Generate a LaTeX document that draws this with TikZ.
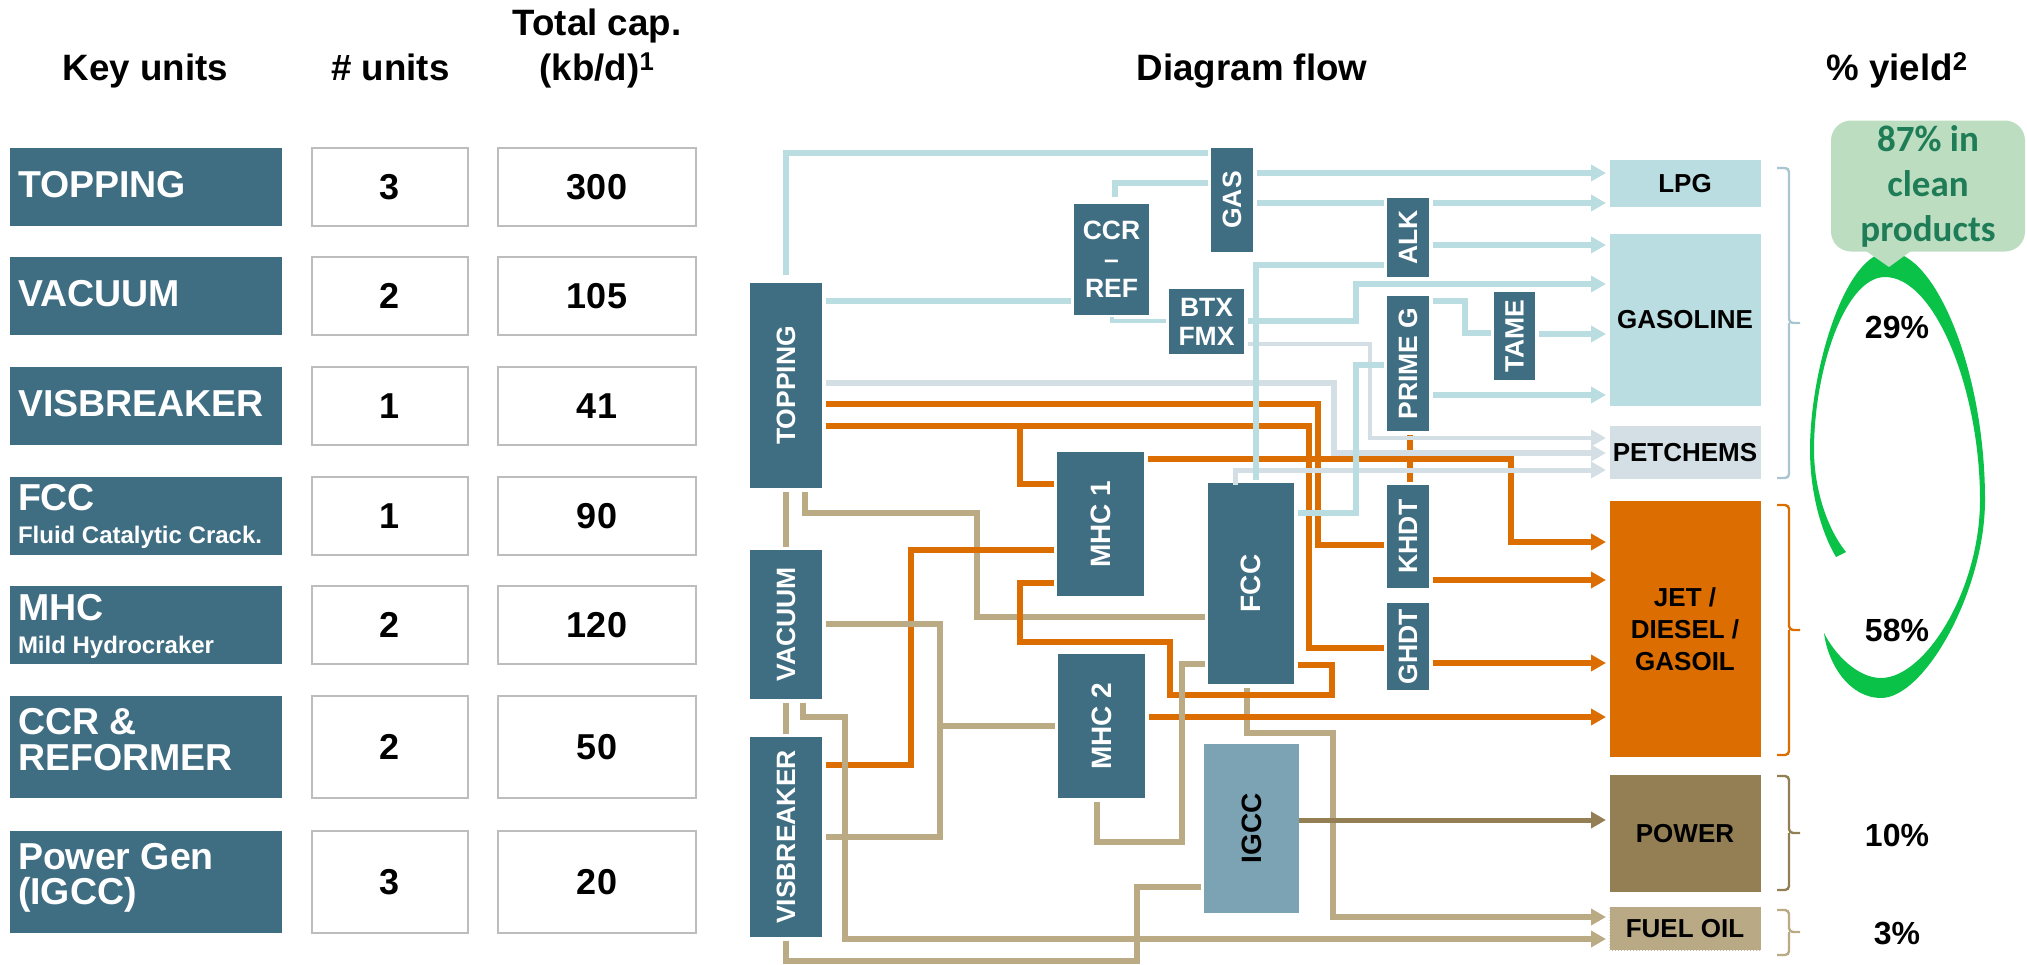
\documentclass[tikz,border=0pt]{standalone}
\usepackage{fontspec}
\setmainfont{Liberation Sans}
\newfontfamily\calfont{Carlito}
\usetikzlibrary{arrows.meta,positioning,patterns}
\definecolor{unitblue}{HTML}{3F6E83}
\definecolor{igccblue}{HTML}{7BA3B3}
\definecolor{ltblue}{HTML}{B9DDE0}
\definecolor{petgrey}{HTML}{D3DFE5}
\definecolor{oilorange}{HTML}{DC6D00}
\definecolor{oiltan}{HTML}{BAAB85}
\definecolor{powerbrown}{HTML}{937F53}
\definecolor{swoosh}{HTML}{0AC247}
\definecolor{calloutgreen}{HTML}{BDDDC1}
\definecolor{calloutink}{HTML}{1E7D57}
\definecolor{cellgrey}{HTML}{BDBDBD}
\definecolor{braceblue}{HTML}{A8C5D1}

\begin{document}
\begin{tikzpicture}[
  x=1pt, y=-1pt,
  font=\bfseries\fontsize{36}{40}\selectfont,
  head/.style={anchor=base, align=flush center, inner sep=0pt, outer sep=0pt, font=\bfseries\fontsize{36.7}{40}\selectfont},
  keybox/.style={fill=unitblue, text=white, align=flush left, text width=256pt, inner xsep=8pt, inner ysep=0pt, outer sep=0pt, minimum height=78pt, text height=26pt, text depth=6pt, font=\bfseries\fontsize{37.5}{40}\selectfont},
  numbox/.style={draw=cellgrey, line width=1.2pt, fill=white, inner sep=0pt, outer sep=0pt, minimum width=156pt, minimum height=78pt},
  capbox/.style={numbox, minimum width=198pt},
  unit/.style={fill=unitblue, text=white, anchor=north west, align=flush center, inner sep=0pt, outer sep=0pt, font=\bfseries\fontsize{26.5}{29}\selectfont},
  bigunit/.style={unit, font=\bfseries\fontsize{28}{30}\selectfont},
  prod/.style={text=black, align=flush center, inner sep=0pt, outer sep=0pt, minimum width=151pt, font=\bfseries\fontsize{26}{32}\selectfont},
  pct/.style={inner sep=0pt, outer sep=0pt, font=\bfseries\fontsize{32}{36}\selectfont},
  flow/.style={line width=6pt, shorten <=3.5pt, shorten >=3.5pt},
  lb/.style={flow, draw=ltblue},
  gy/.style={flow, draw=petgrey},
  og/.style={flow, draw=oilorange},
  tn/.style={flow, draw=oiltan},
  pw/.style={flow, draw=powerbrown, line width=5pt},
  thin/.style={line width=4pt},
  tip/.style={-{Triangle[length=15pt,width=16pt]}},
  brk/.style={line width=2.4pt, rounded corners=4pt}
]
\useasboundingbox (0,0) rectangle (2027,964);

\node[head] (hkey) at (145.5,80) {Key units};
\node[head] (hnum) at (390.5,80) {\# units};
\node[head] (hcap) at (597,80) {(kb/d)\textsuperscript{1}};
\node[head] (hcapb) at (597,35) {Total cap.};
\node[head] (hflow) at (1252,80) {Diagram flow};
\node[head] (hyield) at (1897,80) {\% yield\textsuperscript{2}};

\node[keybox, anchor=north west] (keytop) at (10,148) {TOPPING};
\node[numbox, right=30pt of keytop] (numtop) {3};
\node[capbox, right=30pt of numtop] (captop) {300};
\node[keybox, below=31pt of keytop] (keyvac) {VACUUM};
\node[numbox, right=30pt of keyvac] (numvac) {2};
\node[capbox, right=30pt of numvac] (capvac) {105};
\node[keybox, below=32pt of keyvac] (keyvis) {VISBREAKER};
\node[numbox, right=30pt of keyvis] (numvis) {1};
\node[capbox, right=30pt of numvis] (capvis) {41};
\node[keybox, below=32pt of keyvis, text height=26pt, text depth=37pt] (keyfcc) {FCC\\[-7pt]{\fontsize{24}{26}\selectfont Fluid Catalytic Crack.}};
\node[numbox, right=30pt of keyfcc] (numfcc) {1};
\node[capbox, right=30pt of numfcc] (capfcc) {90};
\node[keybox, below=31pt of keyfcc, text height=26pt, text depth=35pt] (keymhc) {MHC\\[-7pt]{\fontsize{24}{26}\selectfont Mild Hydrocraker}};
\node[numbox, right=30pt of keymhc] (nummhc) {2};
\node[capbox, right=30pt of nummhc] (capmhc) {120};
\node[keybox, below=32pt of keymhc, minimum height=102pt, text height=26pt, text depth=52pt] (keyccr) {CCR \&\\[-4pt]REFORMER};
\node[numbox, right=30pt of keyccr, minimum height=102pt] (numccr) {2};
\node[capbox, right=30pt of numccr, minimum height=102pt] (capccr) {50};
\node[keybox, below=33pt of keyccr, minimum height=102pt, text height=26pt, text depth=52pt] (keypow) {Power Gen\\[-5pt](IGCC)};
\node[numbox, right=30pt of keypow, minimum height=102pt] (numpow) {3};
\node[capbox, right=30pt of numpow, minimum height=102pt] (cappow) {20};

\node[unit, minimum width=72pt, minimum height=205pt] (topping) at (750,283) {\rotatebox{90}{TOPPING}};
\node[unit, minimum width=72pt, minimum height=149pt, below=62pt of topping] (vacuum) {\rotatebox{90}{VACUUM}};
\node[unit, minimum width=72pt, minimum height=200pt, below=38pt of vacuum] (visb) {\rotatebox{90}{VISBREAKER}};
\node[unit, minimum width=42pt, minimum height=104pt] (gas) at (1211,148) {\rotatebox{90}{GAS}};
\node[unit, minimum width=75pt, minimum height=111pt] (ccr) at (1074,204) {CCR\\--\\REF};
\node[unit, minimum width=75pt, minimum height=65pt] (btx) at (1169,289) {BTX\\FMX};
\node[bigunit, minimum width=87pt, minimum height=144pt] (mhca) at (1057,452) {\rotatebox{90}{MHC 1}};
\node[bigunit, minimum width=87pt, minimum height=144pt] (mhcb) at (1058,654) {\rotatebox{90}{MHC 2}};
\node[bigunit, minimum width=86pt, minimum height=201pt] (fcc) at (1208,483) {\rotatebox{90}{FCC}};
\node[bigunit, fill=igccblue, text=black, minimum width=95pt, minimum height=169pt] (igcc) at (1204,744) {\rotatebox{90}{IGCC}};
\node[unit, minimum width=42pt, minimum height=79pt] (alk) at (1387,198) {\rotatebox{90}{ALK}};
\node[unit, minimum width=42pt, minimum height=135pt] (prime) at (1387,296) {\rotatebox{90}{PRIME G}};
\node[unit, minimum width=41pt, minimum height=88pt] (tame) at (1494,292) {\rotatebox{90}{TAME}};
\node[unit, minimum width=42pt, minimum height=103pt] (khdt) at (1387,485) {\rotatebox{90}{KHDT}};
\node[unit, minimum width=42pt, minimum height=87pt] (ghdt) at (1387,603) {\rotatebox{90}{GHDT}};

\node[prod, fill=ltblue, anchor=north west, minimum height=47pt] (lpg) at (1609.5,160) {LPG};
\node[prod, fill=ltblue, minimum height=172pt, below=27pt of lpg] (gasoline) {GASOLINE};
\node[prod, fill=petgrey, minimum height=53pt, below=20pt of gasoline] (petchem) {PETCHEMS};
\node[prod, fill=oilorange, minimum height=256pt, below=22pt of petchem] (jet) {JET /\\DIESEL /\\GASOIL};
\node[prod, fill=powerbrown, minimum height=117pt, below=18pt of jet] (power) {POWER};
\node[prod, preaction={fill=oiltan}, pattern=crosshatch dots, pattern color=powerbrown!70, minimum height=43pt, below=15pt of power] (fueloil) {FUEL OIL};

\coordinate (ogtap) at (1020,426);
\coordinate (tnjoin) at (940,726);

\draw[tn] (topping.south) -- (vacuum.north);
\draw[tn] (vacuum.south) -- (visb.north);
\draw[tn] (805,0 |- topping.south) |- (977,513) |- (fcc.west |- 0,617);
\draw[tn, tip] (1247,0 |- fcc.south) |- (1333,733) |- (fueloil.west |- 0,917);
\draw[og] (topping.east |- 0,404) -| (1318,545) -- (khdt.west |- 0,545);
\draw[og] (topping.east |- 0,426) -| (1309,648) -- (ghdt.west |- 0,648);
\draw[og, shorten <=0pt] (ogtap) |- (mhca.west |- 0,484);
\draw[og, tip] (mhca.east |- 0,459) -| (1511,542) -- (jet.west |- 0,542);
\draw[og, tip] (khdt.east |- 0,580) -- (jet.west |- 0,580);
\draw[og, tip] (ghdt.east |- 0,663) -- (jet.west |- 0,663);
\draw[og, tip] (mhcb.east |- 0,717) -- (jet.west |- 0,717);
\draw[og] (visb.east |- 0,765) -| (911,550) -- (mhca.west |- 0,550);
\draw[og] (fcc.east |- 0,665) -| (1332,695) -| (1170,642) -| (1020,583) -- (mhca.west |- 0,583);
\draw[og] (1410,0 |- prime.south) -- (1410,0 |- khdt.north);
\draw[tn] (vacuum.east |- 0,624) -| (tnjoin) |- (visb.east |- 0,837);
\draw[tn, shorten <=0pt] (tnjoin) -- (mhcb.west |- 0,726);
\draw[tn, tip] (803,0 |- vacuum.south) |- (845,717) |- (fueloil.west |- 0,939);
\draw[tn] (visb.south) |- (1137,961) |- (igcc.west |- 0,887);
\draw[tn] (1097,0 |- mhcb.south) |- (1182,842) |- (fcc.west |- 0,664);
\draw[pw, tip, shorten <=0pt] (igcc.east |- 0,820) -- (power.west |- 0,820);
\draw[gy, thin, tip] (btx.east |- 0,344) -| (1370,438) -- (petchem.west |- 0,438);
\draw[gy, tip] (topping.east |- 0,383) -| (1334,453) -- (petchem.west |- 0,453);
\draw[gy, line width=5pt, tip, shorten <=-2pt] (1235,0 |- fcc.north) |- (petchem.west |- 0,470);
\draw[lb, shorten <=8pt] (topping.north) |- (gas.west |- 0,153);
\draw[lb, shorten <=7pt] (1115,0 |- ccr.north) |- (gas.west |- 0,183);
\draw[lb] (topping.east |- 0,301) -- (ccr.west |- 0,301);
\draw[lb, thin, shorten <=2pt] (ccr.south) |- (btx.west |- 0,321);
\draw[lb, tip] (gas.east |- 0,173) -- (lpg.west |- 0,173);
\draw[lb] (gas.east |- 0,203) -- (alk.west |- 0,203);
\draw[lb, tip] (alk.east |- 0,203) -- (lpg.west |- 0,203);
\draw[lb, tip] (alk.east |- 0,245) -- (gasoline.west |- 0,245);
\draw[lb] (1256,0 |- fcc.north) |- (alk.west |- 0,265);
\draw[lb, tip] (btx.east |- 0,321) -| (1356,284) -- (gasoline.west |- 0,284);
\draw[lb] (prime.east |- 0,301) -| (1465,333) -- (tame.west |- 0,333);
\draw[lb, tip] (tame.east |- 0,334) -- (gasoline.west |- 0,334);
\draw[lb, tip] (prime.east |- 0,395) -- (gasoline.west |- 0,395);
\draw[lb] (fcc.east |- 0,513) -| (1356,365) -- (prime.west |- 0,365);

\draw[brk, draw=braceblue] (1777,168) -- (1789,168) -- (1789,323) -- (1800,323);
\draw[brk, draw=braceblue] (1789,323) -- (1789,478) -- (1777,478);
\draw[brk, draw=oilorange] (1777,505) -- (1789,505) -- (1789,630) -- (1800,630);
\draw[brk, draw=oilorange] (1789,630) -- (1789,755) -- (1777,755);
\draw[brk, draw=powerbrown] (1777,776) -- (1789,776) -- (1789,833) -- (1800,833);
\draw[brk, draw=powerbrown] (1789,833) -- (1789,890) -- (1777,890);
\draw[brk, draw=oiltan] (1777,910) -- (1789,910) -- (1789,932) -- (1800,932);
\draw[brk, draw=oiltan] (1789,932) -- (1789,955) -- (1777,955);

\fill[swoosh] (1846,552) -- (1836,557) .. controls (1820,530) and (1810,490) .. (1810,450) .. controls (1810,370) and (1845,252) .. (1889,252) .. controls (1935,252) and (1985,370) .. (1985,500) .. controls (1985,590) and (1925,698) .. (1881,698) .. controls (1850,698) and (1828,665) .. (1824,633) .. controls (1835,655) and (1858,678) .. (1881,678) .. controls (1925,678) and (1980,590) .. (1980,500) .. controls (1980,390) and (1935,277) .. (1885,277) .. controls (1845,277) and (1814,370) .. (1814,450) .. controls (1814,490) and (1828,530) .. (1846,552) -- cycle;

\node[fill=calloutgreen, text=calloutink, rounded corners=20pt, align=flush center, inner sep=0pt, outer sep=0pt, minimum width=194pt, minimum height=131pt, font=\calfont\bfseries\fontsize{37}{45}\selectfont] (clean) at (1928,186) {87\% in\\clean\\products};
\fill[calloutgreen] (1866,251) -- (1889,267) -- (1911,251) -- cycle;

\node[pct] (yieldclean) at (1897,327) {29\%};
\node[pct] (yieldjet) at (1897,630) {58\%};
\node[pct] (yieldpow) at (1897,835) {10\%};
\node[pct] (yieldfuel) at (1897,933) {3\%};
\end{tikzpicture}
\end{document}
